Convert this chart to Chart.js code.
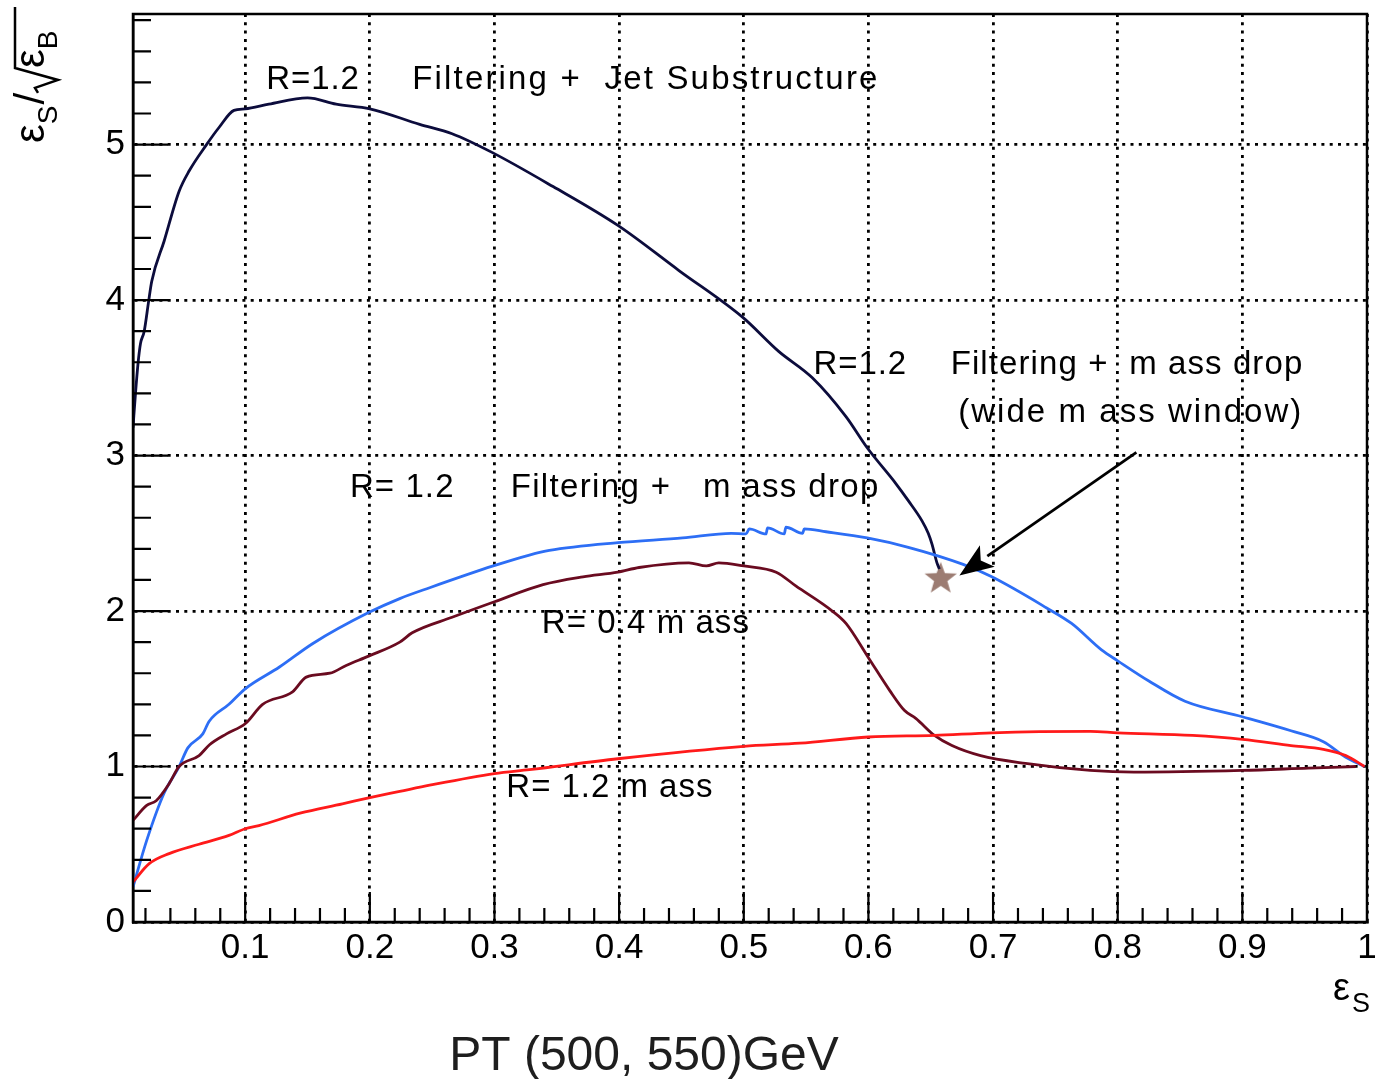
<!DOCTYPE html>
<html>
<head>
<meta charset="utf-8">
<script src="https://cdn.jsdelivr.net/npm/chart.js@4"></script>
<style>
  html, body { margin: 0; padding: 0; background: #fff; }
  canvas { display: block; }
</style>
</head>
<body>
<canvas id="graph" width="1378" height="1079"></canvas>
<script>
// tick values and labels
let xTickValues = [0.1, 0.2, 0.3, 0.4, 0.5, 0.6, 0.7, 0.8, 0.9, 1.0]
let xTickLabels = ['0.1', '0.2', '0.3', '0.4', '0.5', '0.6', '0.7', '0.8', '0.9', '1']
let yTickValues = [0, 1, 2, 3, 4, 5]
let yTickLabels = ['0', '1', '2', '3', '4', '5']

// R=1.2 Filtering + Jet Substructure
let jetSubX = [0.010, 0.012, 0.014, 0.016, 0.019, 0.0225, 0.025, 0.035, 0.047, 0.055, 0.069, 0.079, 0.091, 0.100, 0.119, 0.150, 0.173, 0.200, 0.240, 0.266, 0.298, 0.347, 0.399, 0.448, 0.499, 0.528, 0.555, 0.582, 0.599, 0.622, 0.632, 0.643, 0.648, 0.651, 0.655, 0.657]
let jetSubY = [3.18, 3.40, 3.59, 3.72, 3.80, 3.99, 4.12, 4.38, 4.70, 4.83, 5.00, 5.11, 5.22, 5.23, 5.26, 5.30, 5.26, 5.23, 5.13, 5.07, 4.95, 4.73, 4.48, 4.19, 3.89, 3.67, 3.50, 3.25, 3.05, 2.82, 2.71, 2.58, 2.50, 2.43, 2.31, 2.27]

// R=1.2 Filtering + mass drop
let massDropX = [0.010, 0.021, 0.035, 0.047, 0.054, 0.066, 0.071, 0.087, 0.100, 0.1275, 0.154, 0.199, 0.224, 0.248, 0.299, 0.328, 0.344, 0.399, 0.451, 0.490, 0.5018, 0.5044, 0.5178, 0.5191, 0.5325, 0.5338, 0.5472, 0.5485, 0.566, 0.599, 0.632, 0.676, 0.699, 0.743, 0.763, 0.787, 0.800, 0.825, 0.854, 0.900, 0.939, 0.965, 0.983, 0.998]
let massDropY = [0.225, 0.525, 0.83, 1.00, 1.12, 1.21, 1.29, 1.40, 1.50, 1.64, 1.79, 1.99, 2.08, 2.15, 2.29, 2.36, 2.39, 2.44, 2.47, 2.50, 2.496, 2.528, 2.496, 2.535, 2.496, 2.539, 2.50, 2.528, 2.51, 2.47, 2.41, 2.30, 2.22, 2.02, 1.92, 1.75, 1.68, 1.55, 1.42, 1.32, 1.23, 1.16, 1.06, 1.00]

// R=0.4 mass
let mass04X = [0.010, 0.021, 0.0286, 0.039, 0.047, 0.063, 0.0714, 0.085, 0.100, 0.114, 0.138, 0.149, 0.168, 0.181, 0.199, 0.224, 0.234, 0.266, 0.300, 0.339, 0.371, 0.399, 0.416, 0.456, 0.470, 0.480, 0.500, 0.526, 0.542, 0.571, 0.582, 0.600, 0.617, 0.629, 0.638, 0.653, 0.667, 0.690, 0.726, 0.778, 0.813, 0.900, 0.953, 0.991]
let mass04Y = [0.654, 0.75, 0.78, 0.89, 1.00, 1.07, 1.14, 1.21, 1.275, 1.40, 1.48, 1.575, 1.60, 1.65, 1.71, 1.80, 1.86, 1.96, 2.06, 2.17, 2.22, 2.25, 2.28, 2.31, 2.29, 2.31, 2.29, 2.25, 2.16, 2.00, 1.92, 1.70, 1.49, 1.36, 1.31, 1.20, 1.135, 1.07, 1.02, 0.975, 0.964, 0.975, 0.99, 1.00]

// R=1.2 mass
let mass12X = [0.010, 0.023, 0.039, 0.063, 0.087, 0.100, 0.111, 0.144, 0.178, 0.200, 0.224, 0.248, 0.300, 0.328, 0.399, 0.500, 0.545, 0.600, 0.653, 0.699, 0.778, 0.800, 0.860, 0.900, 0.939, 0.965, 0.983, 0.998]
let mass12Y = [0.257, 0.375, 0.44, 0.50, 0.557, 0.60, 0.62, 0.70, 0.76, 0.80, 0.84, 0.88, 0.955, 0.98, 1.05, 1.13, 1.15, 1.19, 1.20, 1.217, 1.226, 1.217, 1.20, 1.175, 1.135, 1.11, 1.07, 1.00]

// wide mass window working point
let starX = [0.658]
let starY = [2.207]

let notes = [
  { text: 'R=1.2', x: 0.117, x2: 0.192, y: 5.358 },
  { text: 'Filtering +  Jet Substructure', x: 0.234, x2: 0.609, y: 5.358 },
  { text: 'R=1.2', x: 0.556, x2: 0.631, y: 3.526 },
  { text: 'Filtering +  m ass drop', x: 0.666, x2: 0.949, y: 3.526 },
  { text: '(wide m ass window)', x: 0.672, x2: 0.949, y: 3.217 },
  { text: 'R= 1.2', x: 0.184, x2: 0.268, y: 2.731 },
  { text: 'Filtering +   m ass drop', x: 0.313, x2: 0.609, y: 2.731 },
  { text: 'R= 0.4 m ass', x: 0.338, x2: 0.505, y: 1.857 },
  { text: 'R= 1.2 m ass', x: 0.3095, x2: 0.4756, y: 0.801 }
]
let arrowFrom = { x: 0.815, y: 3.02 }
let arrowTo = { x: 0.673, y: 2.229 }

const FONT = "'Liberation Sans', Arial, sans-serif"

function toPoints(xs, ys) {
  return xs.map((x, i) => ({ x: x, y: ys[i] }))
}

function starImage() {
  let c = document.createElement('canvas')
  c.width = 36
  c.height = 36
  let g = c.getContext('2d')
  g.fillStyle = '#9c7c72'
  g.beginPath()
  for (let i = 0; i < 10; i++) {
    let r = i % 2 == 0 ? 17 : 7
    let a = -Math.PI / 2 + i * Math.PI / 5
    g.lineTo(18 + r * Math.cos(a), 18 + r * Math.sin(a))
  }
  g.closePath()
  g.fill()
  return c
}

function line(label, xs, ys, color) {
  return {
    label: label,
    data: toPoints(xs, ys),
    borderColor: color,
    borderWidth: 2.8,
    pointRadius: 0,
    fill: false,
    tension: 0,
    cubicInterpolationMode: 'monotone'
  }
}

const rootStyle = {
  id: 'rootStyle',
  afterDatasetsDraw(chart) {
    const { ctx, scales: { x, y } } = chart
    ctx.save()
    ctx.fillStyle = '#000'
    ctx.textBaseline = 'alphabetic'
    ctx.font = '33px ' + FONT
    notes.forEach(n => {
      let left = x.getPixelForValue(n.x)
      let target = x.getPixelForValue(n.x2) - left
      ctx.letterSpacing = '0px'
      let w = ctx.measureText(n.text).width
      ctx.letterSpacing = ((target - w) / n.text.length).toFixed(2) + 'px'
      ctx.fillText(n.text, left, y.getPixelForValue(n.y))
    })
    ctx.letterSpacing = '0px'

    // arrow
    let x0 = x.getPixelForValue(arrowFrom.x), y0 = y.getPixelForValue(arrowFrom.y)
    let x1 = x.getPixelForValue(arrowTo.x), y1 = y.getPixelForValue(arrowTo.y)
    let ang = Math.atan2(y1 - y0, x1 - x0)
    let hl = 34, hw = 13
    let bx = x1 - hl * Math.cos(ang), by = y1 - hl * Math.sin(ang)
    ctx.strokeStyle = '#000'
    ctx.lineWidth = 2.8
    ctx.beginPath()
    ctx.moveTo(x0, y0)
    ctx.lineTo(bx, by)
    ctx.stroke()
    ctx.beginPath()
    ctx.moveTo(x1, y1)
    ctx.lineTo(bx - hw * Math.sin(ang), by + hw * Math.cos(ang))
    ctx.lineTo(x1 - (hl - 8) * Math.cos(ang), y1 - (hl - 8) * Math.sin(ang))
    ctx.lineTo(bx + hw * Math.sin(ang), by - hw * Math.cos(ang))
    ctx.closePath()
    ctx.fill()
    ctx.restore()
  },
  afterDraw(chart) {
    const { ctx, chartArea: a, scales: { x, y } } = chart
    ctx.save()
    ctx.strokeStyle = '#000'
    ctx.lineWidth = 2.2
    ctx.beginPath()
    for (let i = 1; i < 50; i++) {
      let px = x.getPixelForValue(i * 0.02)
      let len = i % 5 == 0 ? 30 : 14
      ctx.moveTo(px, a.bottom)
      ctx.lineTo(px, a.bottom - len)
    }
    for (let i = 1; i <= 29; i++) {
      let py = y.getPixelForValue(i * 0.2)
      let len = i % 5 == 0 ? 35 : 18
      ctx.moveTo(a.left, py)
      ctx.lineTo(a.left + len, py)
    }
    ctx.stroke()
    ctx.lineWidth = 2.5
    ctx.strokeRect(a.left, a.top, a.right - a.left, a.bottom - a.top)

    // axis titles
    ctx.fillStyle = '#000'
    ctx.textBaseline = 'alphabetic'
    ctx.font = '38px ' + FONT
    ctx.fillText('ε', 1333, 1000)
    ctx.font = '27px ' + FONT
    ctx.fillText('S', 1352, 1012)

    ctx.save()
    ctx.translate(44, 143)
    ctx.rotate(-Math.PI / 2)
    ctx.font = '42px ' + FONT
    ctx.fillText('ε', 0, 0)
    let p = ctx.measureText('ε').width
    ctx.font = '28px ' + FONT
    ctx.fillText('S', p, 13)
    p += ctx.measureText('S').width + 1
    ctx.font = '42px ' + FONT
    ctx.fillText('/', p, 0)
    p += ctx.measureText('/').width
    ctx.lineWidth = 2.5
    ctx.beginPath()
    ctx.moveTo(p, -6)
    ctx.lineTo(p + 5, -9)
    ctx.lineTo(p + 13, 14)
    ctx.lineTo(p + 25, -29)
    ctx.lineTo(136, -29)
    ctx.stroke()
    p += 25
    ctx.font = '42px ' + FONT
    ctx.fillText('ε', p, 0)
    p += ctx.measureText('ε').width
    ctx.font = '28px ' + FONT
    ctx.fillText('B', p, 13)
    ctx.restore()

    ctx.fillStyle = '#1e1e1e'
    ctx.font = '48px ' + FONT
    ctx.textAlign = 'center'
    ctx.fillText('PT (500, 550)GeV', 644, 1070)
    ctx.restore()
  }
}

function createGraph() {
  new Chart(document.getElementById('graph'), {
    type: 'line',
    data: {
      datasets: [
        line('R= 1.2 mass', mass12X, mass12Y, '#ff1a1a'),
        line('R= 0.4 mass', mass04X, mass04Y, '#6a0b20'),
        line('R=1.2 Filtering + mass drop', massDropX, massDropY, '#2d6ef5'),
        line('R=1.2 Filtering + Jet Substructure', jetSubX, jetSubY, '#0c0c3c'),
        {
          label: 'wide mass window',
          data: toPoints(starX, starY),
          showLine: false,
          pointStyle: starImage(),
          pointRadius: 18
        }
      ]
    },
    options: {
      responsive: false,
      animation: false,
      devicePixelRatio: 1,
      layout: { autoPadding: false, padding: { top: 14, right: 11, left: 0, bottom: 0 } },
      plugins: { legend: { display: false }, tooltip: { enabled: false } },
      scales: {
        x: {
          type: 'linear',
          min: 0.01,
          max: 1.0,
          afterBuildTicks: axis => { axis.ticks = xTickValues.map(v => ({ value: v })) },
          afterFit: axis => {
            axis.height = 157
            axis.paddingLeft = 0
            axis.paddingRight = 0
          },
          ticks: {
            callback: (v, i) => xTickLabels[i],
            color: '#000',
            font: { family: FONT, size: 35 },
            padding: 5,
            maxRotation: 0,
            autoSkip: false
          },
          grid: { color: '#000', lineWidth: 2.8, drawTicks: false },
          border: { display: true, color: '#000', width: 2.5, dash: [3, 5.3] }
        },
        y: {
          type: 'linear',
          min: 0,
          max: 5.84,
          afterBuildTicks: axis => { axis.ticks = yTickValues.map(v => ({ value: v })) },
          afterFit: axis => {
            axis.width = 133
            axis.paddingTop = 0
            axis.paddingBottom = 0
          },
          ticks: {
            callback: (v, i) => yTickLabels[i],
            color: '#000',
            font: { family: FONT, size: 35 },
            padding: 8
          },
          grid: { color: '#000', lineWidth: 2.8, drawTicks: false },
          border: { display: true, color: '#000', width: 2.5, dash: [3, 5.3] }
        }
      }
    },
    plugins: [rootStyle]
  })
}

createGraph()
</script>
</body>
</html>
